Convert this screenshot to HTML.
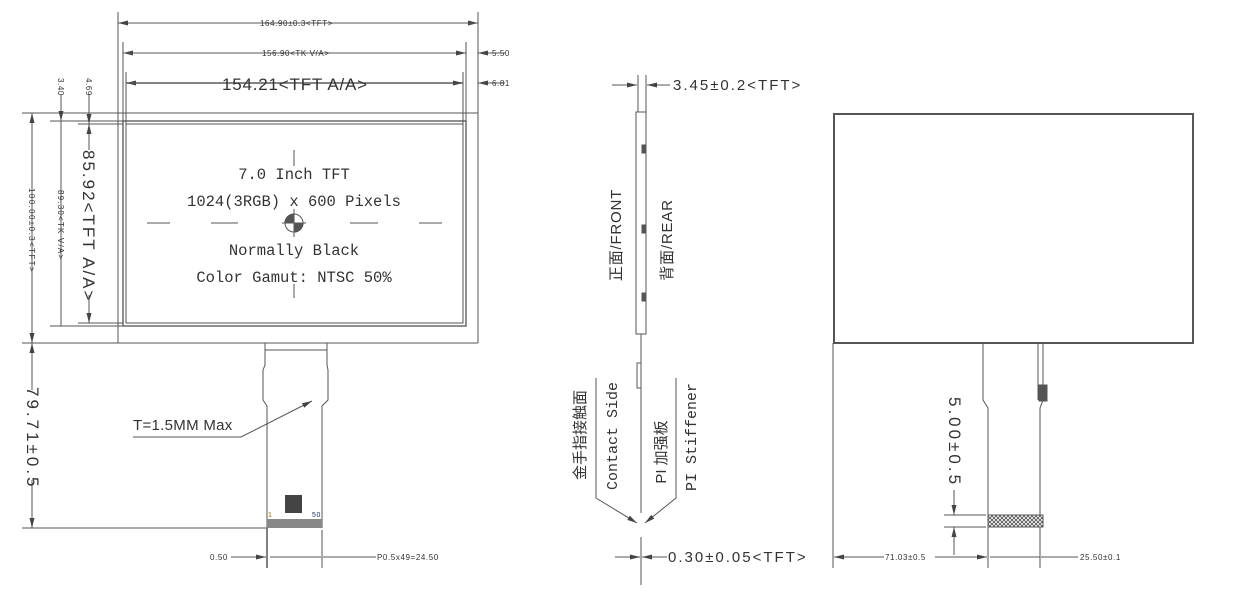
<!DOCTYPE html>
<html><head><meta charset="utf-8"><style>
html,body{margin:0;padding:0;background:#fff;}
svg{display:block;}
text{font-family:"Liberation Sans","Noto Sans CJK SC",sans-serif;fill:#333;}
.m{font-family:"Liberation Mono","Noto Sans CJK SC",monospace;}
</style></head><body>
<svg width="1238" height="611" viewBox="0 0 1238 611" xmlns="http://www.w3.org/2000/svg">
<defs>
<marker id="a" markerWidth="10" markerHeight="6" refX="10" refY="3" orient="auto" markerUnits="userSpaceOnUse"><path d="M0,0.5 L10,3 L0,5.5z" fill="#444"/></marker>
<pattern id="h" width="4" height="4" patternUnits="userSpaceOnUse"><rect width="4" height="4" fill="#fff"/><path d="M0,0 L4,4 M4,0 L0,4" stroke="#555" stroke-width="0.9"/></pattern>
</defs>
<g stroke="#555" stroke-width="1" fill="none">
<line x1="118" y1="12" x2="118" y2="343"/>
<line x1="478" y1="12" x2="478" y2="343"/>
<line x1="118" y1="23" x2="478" y2="23" marker-end="url(#a)"/>
<line x1="478" y1="23" x2="118" y2="23" marker-end="url(#a)"/>
<line x1="123" y1="42" x2="123" y2="121"/>
<line x1="466" y1="42" x2="466" y2="121"/>
<line x1="466" y1="53" x2="123" y2="53" marker-end="url(#a)"/>
<line x1="123" y1="53" x2="466" y2="53" marker-end="url(#a)"/>
<line x1="505" y1="53" x2="478" y2="53" marker-end="url(#a)"/>
<line x1="126" y1="72" x2="126" y2="124"/>
<line x1="463" y1="72" x2="463" y2="124"/>
<line x1="463" y1="83" x2="126" y2="83" marker-end="url(#a)" stroke-width="1.3"/>
<line x1="126" y1="83" x2="463" y2="83" marker-end="url(#a)" stroke-width="1.3"/>
<line x1="505" y1="83" x2="478" y2="83" marker-end="url(#a)"/>
<line x1="22" y1="113" x2="478" y2="113"/>
<line x1="22" y1="343" x2="478" y2="343"/>
<line x1="50" y1="121" x2="123" y2="121"/>
<line x1="50" y1="326" x2="123" y2="326"/>
<line x1="78" y1="124" x2="123" y2="124"/>
<line x1="78" y1="323" x2="123" y2="323"/>
<rect x="123" y="121" width="343" height="205" stroke-width="1.3"/>
<rect x="126" y="124" width="337" height="199"/>
<line x1="32" y1="260" x2="32" y2="113" marker-end="url(#a)"/>
<line x1="32" y1="175" x2="32" y2="343" marker-end="url(#a)"/>
<line x1="61" y1="95" x2="61" y2="121" marker-end="url(#a)"/>
<line x1="61" y1="120" x2="61" y2="326"/>
<line x1="89" y1="95" x2="89" y2="124" marker-end="url(#a)"/>
<line x1="89" y1="124" x2="89" y2="150"/>
<line x1="89" y1="140" x2="89" y2="124" marker-end="url(#a)"/>
<line x1="89" y1="295" x2="89" y2="323" marker-end="url(#a)"/>
<line x1="147" y1="223" x2="170" y2="223"/>
<line x1="211" y1="223" x2="238" y2="223"/>
<line x1="350" y1="223" x2="378" y2="223"/>
<line x1="419" y1="223" x2="442" y2="223"/>
<line x1="294" y1="150" x2="294" y2="166"/>
<line x1="294" y1="284" x2="294" y2="298"/>
<line x1="282" y1="223" x2="306" y2="223"/>
<line x1="294" y1="209" x2="294" y2="237"/>
<circle cx="294" cy="223" r="9"/>
<path d="M294,223 L285,223 A9,9 0 0 1 294,214z" fill="#555"/>
<path d="M294,223 L303,223 A9,9 0 0 1 294,232z" fill="#555"/>
<path d="M265,343 L265,365 L263,370 L263,400 L267,406 L267,528 M327,343 L327,365 L328,370 L328,400 L322,406 L322,528"/>
<line x1="265" y1="350" x2="327" y2="350"/>
<line x1="239" y1="343" x2="346" y2="343"/>
<rect x="267" y="519" width="55" height="9" fill="#888" stroke="none"/>
<rect x="285" y="495" width="17" height="18" fill="#444" stroke="none"/>
<line x1="22" y1="528" x2="267" y2="528"/>
<line x1="32" y1="390" x2="32" y2="343" marker-end="url(#a)"/>
<line x1="32" y1="480" x2="32" y2="528" marker-end="url(#a)"/>
<polyline points="133,437 241,437 312,401" marker-end="url(#a)"/>
<line x1="267" y1="528" x2="267" y2="568" stroke-width="1.5"/>
<line x1="322" y1="530" x2="322" y2="568"/>
<line x1="231" y1="557" x2="266" y2="557" marker-end="url(#a)"/>
<line x1="270" y1="557" x2="321" y2="557"/>
<line x1="376" y1="557" x2="323" y2="557"/>
<line x1="638" y1="75" x2="638" y2="112"/>
<line x1="646" y1="75" x2="646" y2="112"/>
<line x1="612" y1="85" x2="637" y2="85" marker-end="url(#a)"/>
<line x1="670" y1="85" x2="647" y2="85" marker-end="url(#a)"/>
<rect x="636" y="112" width="10" height="222"/>
<rect x="642" y="145" width="3" height="8" fill="#555"/>
<rect x="642" y="225" width="3" height="8" fill="#555"/>
<rect x="642" y="293" width="3" height="8" fill="#555"/>
<line x1="641" y1="334" x2="641" y2="513"/>
<rect x="637" y="363" width="4" height="25"/>
<polyline points="596,378 596,498 637,523" marker-end="url(#a)"/>
<polyline points="676,378 676,498 645,523" marker-end="url(#a)"/>
<line x1="641" y1="537" x2="641" y2="585"/>
<line x1="615" y1="557" x2="640" y2="557" marker-end="url(#a)"/>
<line x1="667" y1="557" x2="642" y2="557" marker-end="url(#a)"/>
<rect x="834" y="114" width="359" height="229" stroke-width="2"/>
<line x1="833" y1="343" x2="833" y2="568"/>
<path d="M983,343 L983,400 L988,408 L988,568 M1043,343 L1043,400 L1040,408 L1040,568"/>
<line x1="1038" y1="343" x2="1038" y2="400"/>
<rect x="1039" y="385" width="8" height="16" fill="#555"/>
<rect x="988" y="515" width="55" height="12" fill="url(#h)"/>
<line x1="944" y1="515" x2="986" y2="515"/>
<line x1="944" y1="527" x2="986" y2="527"/>
<line x1="954" y1="490" x2="954" y2="515" marker-end="url(#a)"/>
<line x1="954" y1="555" x2="954" y2="527" marker-end="url(#a)"/>
<line x1="884" y1="557" x2="834" y2="557" marker-end="url(#a)"/>
<line x1="935" y1="557" x2="987" y2="557" marker-end="url(#a)"/>
<line x1="990" y1="557" x2="1040" y2="557"/>
<line x1="1078" y1="557" x2="1041" y2="557"/>
</g>
<g font-size="8" letter-spacing="0.6">
<text x="260" y="26">164.90±0.3&lt;TFT&gt;</text>
<text x="262" y="56">156.90&lt;TK V/A&gt;</text>
<text x="492" y="56">5.50</text>
<text x="492" y="86">6.81</text>
<text x="0" y="0" transform="translate(58,78) rotate(90)">3.40</text>
<text x="0" y="0" transform="translate(86,78) rotate(90)">4.69</text>
<text x="0" y="0" transform="translate(29,188) rotate(90)" letter-spacing="1.4">100.00±0.3&lt;TFT&gt;</text>
<text x="0" y="0" transform="translate(58,190) rotate(90)" letter-spacing="1.2">89.30&lt;TK V/A&gt;</text>
<text x="210" y="560">0.50</text>
<text x="377" y="560">P0.5x49=24.50</text>
<text x="885" y="560">71.03±0.5</text>
<text x="1080" y="560">25.50±0.1</text>
<text x="268" y="517" font-size="7" style="fill:#a60">1</text>
<text x="312" y="517" font-size="7" style="fill:#236">50</text>
</g>
<text x="222" y="90" font-size="17" letter-spacing="0.8">154.21&lt;TFT A/A&gt;</text>
<text x="0" y="0" font-size="17" letter-spacing="2" transform="translate(83,150) rotate(90)">85.92&lt;TFT A/A&gt;</text>
<text x="0" y="0" font-size="17" letter-spacing="3" transform="translate(27,387) rotate(90)">79.71±0.5</text>
<text x="0" y="0" font-size="17" letter-spacing="3" transform="translate(949,397) rotate(90)">5.00±0.5</text>
<text x="133" y="430" font-size="15" letter-spacing="0.3">T=1.5MM Max</text>
<text x="673" y="90" font-size="15" letter-spacing="2">3.45±0.2&lt;TFT&gt;</text>
<text x="668" y="562" font-size="15" letter-spacing="2">0.30±0.05&lt;TFT&gt;</text>
<g font-size="15.5" text-anchor="middle">
<text x="294" y="179" class="m">7.0 Inch TFT</text>
<text x="294" y="206" class="m">1024(3RGB) x 600 Pixels</text>
<text x="294" y="255" class="m">Normally Black</text>
<text x="294" y="282" class="m">Color Gamut: NTSC 50%</text>
</g>
<g font-size="15" text-anchor="middle">
<text transform="translate(621,235) rotate(-90)" letter-spacing="0.8">正面/FRONT</text>
<text transform="translate(672,240) rotate(-90)" letter-spacing="0.8">背面/REAR</text>
<text transform="translate(585,435) rotate(-90)">金手指接触面</text>
<text transform="translate(617,436) rotate(-90)" class="m">Contact Side</text>
<text transform="translate(666,452) rotate(-90)">PI 加强板</text>
<text transform="translate(696,437) rotate(-90)" class="m">PI Stiffener</text>
</g>
</svg>
</body></html>
